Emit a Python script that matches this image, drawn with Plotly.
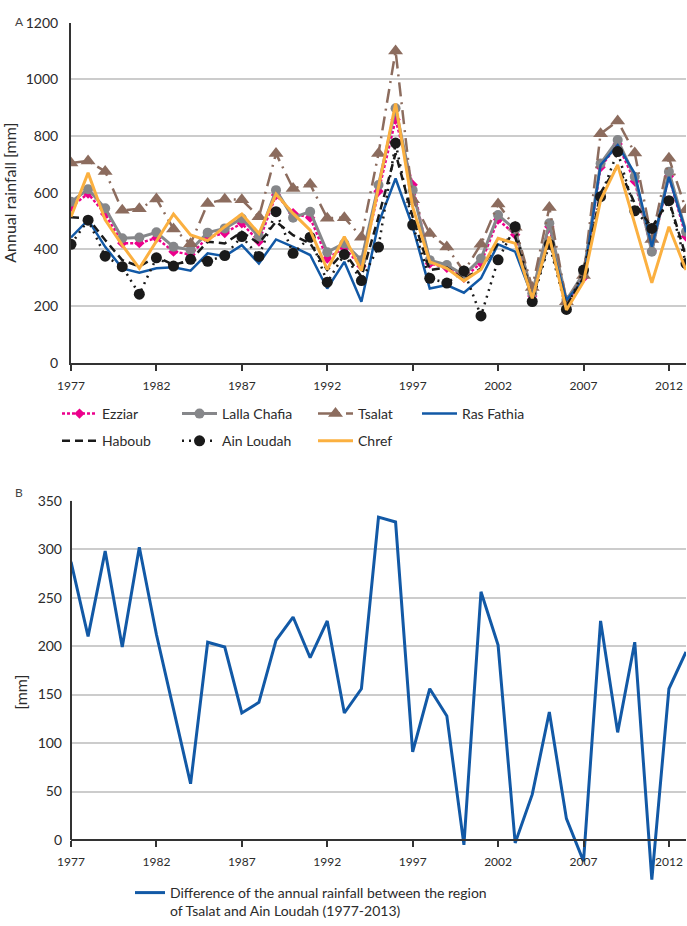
import plotly.graph_objects as go

years = list(range(1977, 2014))

ezziar = [550, 597, 525, 422, 422, 440, 392, 382, 442, 458, 492, 428, 592, 528, 512, 368, 405, 340, 605, 858,
          628, 350, 335, 300, 352, 505, 452, 235, 480, 210, 300, 690, 772, 640, 395, 658, 445]
lalla_chafia = [568, 612, 545, 439, 442, 460, 409, 398, 459, 474, 509, 445, 609, 512, 533, 390, 421, 362, 627, 898,
                609, 362, 345, 309, 368, 521, 470, 245, 492, 221, 315, 703, 786, 656, 392, 674, 462]
tsalat = [705, 712, 675, 538, 543, 578, 472, 420, 562, 577, 575, 515, 738, 615, 630, 510, 512, 443, 738, 1100,
          575, 456, 408, 322, 418, 560, 478, 265, 548, 215, 308, 808, 853, 740, 435, 722, 540]
ras_fathia = [442, 504, 409, 333, 318, 333, 337, 325, 386, 376, 415, 350, 435, 409, 380, 262, 356, 215, 492, 650,
              480, 262, 274, 247, 298, 418, 392, 233, 439, 221, 292, 698, 768, 668, 409, 656, 460]
haboub = [513, 510, 433, 362, 340, 374, 345, 362, 427, 421, 462, 421, 498, 450, 421, 327, 392, 303, 515, 739,
          515, 327, 336, 294, 333, 421, 445, 225, 430, 200, 300, 600, 695, 562, 478, 574, 374]
ain_loudah = [418, 503, 376, 339, 242, 370, 341, 365, 358, 378, 445, 375, 533, 386, 443, 284, 382, 290, 408, 775,
              486, 298, 281, 324, 165, 363, 480, 216, 418, 188, 327, 586, 745, 536, 474, 572, 350]
chref = [515, 670, 504, 415, 333, 430, 525, 451, 431, 480, 525, 456, 595, 527, 468, 329, 445, 325, 621, 915,
         550, 356, 333, 289, 329, 439, 421, 227, 445, 186, 286, 574, 698, 492, 282, 480, 327]

difference = [287, 210, 298, 199, 302, 212, 135, 58, 204, 199, 131, 142, 206, 230, 188, 226, 131, 156, 333, 328,
              91, 156, 128, -5, 256, 201, -3, 47, 132, 22, -22, 226, 111, 204, -41, 156, 194]

x_ticks = [1977, 1982, 1987, 1992, 1997, 2002, 2007, 2012]
diff_label = "Difference of the annual rainfall between the region<br>of Tsalat and Ain Loudah (1977-2013)"

FONT = "Lato, 'Open Sans', sans-serif"
TXT = "#2b2b2b"
AX = "#333333"
GRID = "#cccccc"

W, H = 687, 926
ML, MR = 71, 1
PW = W - ML - MR


def px_x(px):
    return (px - ML) / PW


def px_y(py):
    return 1 - py / H


fig = go.Figure()

series = [
    dict(name="Ezziar", y=ezziar, color="#EC008C", dash="3px,2px", width=2.5,
         marker=dict(symbol="diamond", size=8), legend="legend"),
    dict(name="Lalla Chafia", y=lalla_chafia, color="#86878a", dash="solid", width=3,
         marker=dict(symbol="circle", size=10), legend="legend2"),
    dict(name="Tsalat", y=tsalat, color="#8c6c5e", dash="14px,6px,2px,6px", width=2.5,
         marker=dict(symbol="triangle-up", size=13), legend="legend3"),
    dict(name="Ras Fathia", y=ras_fathia, color="#1259a6", dash="solid", width=2.5,
         marker=None, legend="legend4"),
    dict(name="Haboub", y=haboub, color="#1a1a1a", dash="8px,5px", width=2.5,
         marker=None, legend="legend"),
    dict(name="Ain Loudah", y=ain_loudah, color="#1a1a1a", dash="2px,5px", width=2.5,
         marker=dict(symbol="circle", size=11), legend="legend2"),
    dict(name="Chref", y=chref, color="#fbb040", dash="solid", width=3,
         marker=None, legend="legend3"),
]

for s in series:
    kw = dict(x=years, y=s["y"], name=s["name"], xaxis="x", yaxis="y",
              legend=s["legend"], legendgroup=s["name"],
              line=dict(color=s["color"], width=s["width"], dash=s["dash"]))
    if s["marker"] is not None:
        kw["mode"] = "lines+markers"
        kw["marker"] = dict(color=s["color"], **s["marker"])
    else:
        kw["mode"] = "lines"
    fig.add_trace(go.Scatter(**kw))

fig.add_trace(go.Scatter(x=years, y=difference, name=diff_label, mode="lines",
                         xaxis="x2", yaxis="y2", legend="legend5",
                         line=dict(color="#1259a6", width=3)))

top_lo, top_hi = px_y(362.7), px_y(22.7)
bot_lo, bot_hi = px_y(883.6), px_y(500.7)

axis_common = dict(showline=True, linecolor=AX, linewidth=2, ticks="outside",
                   ticklen=6, tickwidth=1.5, tickcolor=AX, showgrid=False,
                   zeroline=False, ticklabelstandoff=5,
                   tickfont=dict(size=12, color=TXT, family=FONT),
                   range=[1977, 2013], tickvals=x_ticks)

fig.update_layout(
    width=W, height=H,
    margin=dict(l=ML, r=MR, t=0, b=0, autoexpand=False),
    paper_bgcolor="white", plot_bgcolor="white",
    font=dict(family=FONT, color=TXT, size=14),
    xaxis=dict(domain=[0, 1], anchor="y", **axis_common),
    yaxis=dict(domain=[top_lo, top_hi], anchor="x", range=[0, 1200], dtick=200,
               showline=True, linecolor=AX, linewidth=2, ticks="",
               showgrid=True, gridcolor=GRID, gridwidth=1.5, zeroline=False,
               ticklabelstandoff=8,
               tickfont=dict(size=14, color=TXT, family=FONT),
               title=dict(text="Annual rainfall [mm]", standoff=6,
                          font=dict(size=16, color=TXT, family=FONT))),
    xaxis2=dict(domain=[0, 1], anchor="free", position=px_y(840), **axis_common),
    yaxis2=dict(domain=[bot_lo, bot_hi], anchor="x2", range=[-45, 350], tick0=0, dtick=50,
                showline=False, ticks="", showgrid=True, gridcolor=GRID, gridwidth=1.5,
                zeroline=False, ticklabelstandoff=8,
                tickfont=dict(size=14, color=TXT, family=FONT),
                title=dict(text="[mm]", standoff=6,
                           font=dict(size=16, color=TXT, family=FONT))),
    showlegend=True,
)

leg_common = dict(orientation="v", yanchor="top", xanchor="left", bgcolor="rgba(0,0,0,0)",
                  borderwidth=0, itemwidth=35, tracegroupgap=6,
                  font=dict(size=14, color=TXT, family=FONT), itemclick=False)
row1_top = px_y(398)
fig.update_layout(
    legend=dict(x=px_x(57), y=row1_top, **leg_common),
    legend2=dict(x=px_x(177), y=row1_top, **leg_common),
    legend3=dict(x=px_x(313), y=row1_top, **leg_common),
    legend4=dict(x=px_x(417), y=row1_top, **leg_common),
    legend5=dict(x=px_x(130), y=px_y(877), orientation="v", yanchor="top", xanchor="left",
                 bgcolor="rgba(0,0,0,0)", borderwidth=0, itemwidth=30, valign="top",
                 font=dict(size=14, color=TXT, family=FONT)),
)

# bottom y-axis line drawn only from 0 to 350
fig.add_shape(type="line", xref="x2 domain", yref="y2", x0=0, x1=0, y0=0, y1=350,
              line=dict(color=AX, width=2), layer="above")

fig.add_annotation(text="A", xref="paper", yref="paper", x=px_x(13), y=px_y(12),
                   showarrow=False, font=dict(size=12, color="#444", family=FONT))
fig.add_annotation(text="B", xref="paper", yref="paper", x=px_x(13), y=px_y(492),
                   showarrow=False, font=dict(size=12, color="#444", family=FONT))

fig.write_html(
    "out.html",
    config={"displayModeBar": False},
    post_script="document.body.style.margin='0';document.body.style.overflow='hidden';"
                "document.documentElement.style.overflow='hidden';",
)
